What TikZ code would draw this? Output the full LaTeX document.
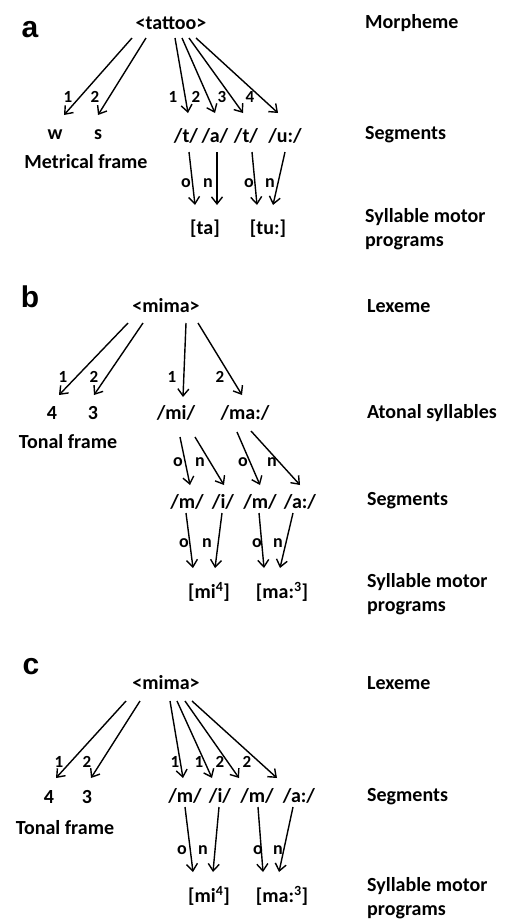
\documentclass[tikz,border=0pt]{standalone}
\usepackage{fontspec}
\setmainfont{Carlito}
\newfontfamily\panelfont{Liberation Sans}
\usetikzlibrary{arrows.meta}
\begin{document}
\begin{tikzpicture}[x=1pt,y=-1pt,
  arr/.style={line width=1.4pt,-{Straight Barb[length=7pt,width=11pt,line width=1.4pt]}},
  txt/.style={font=\bfseries\fontsize{20}{24}\selectfont,inner sep=0pt},
  num/.style={font=\bfseries\fontsize{17}{18}\selectfont,inner sep=0pt},
  onl/.style={font=\bfseries\fontsize{18}{20}\selectfont,inner sep=0pt},
  lab/.style={txt,anchor=west,align=left},
  panel/.style={font=\panelfont\bfseries\fontsize{30}{32}\selectfont,inner sep=0pt}]
\useasboundingbox[fill=white] (0,0) rectangle (506,921);

% ---------------- panel a ----------------
\node[panel] (pa) at (30,30) {a};
\node[txt] (tattoo) at (171,23) {<tattoo>};
\node[lab] (la1) at (365,23) {Morpheme};
\node[lab] (la2) at (365,135) {Segments};
\node[lab] (la3) at (365,229) {Syllable motor\\programs};

\node[txt] (w) at (55,135) {w};
\node[txt] (s) at (98,135) {s};
\node[txt] (mf) at (86,162) {Metrical frame};
\node[txt] (t1) at (186,136) {/t/};
\node[txt] (a1) at (215,136) {/a/};
\node[txt] (t2) at (246,136) {/t/};
\node[txt] (u1) at (285,136) {/u:/};
\node[txt] (ta) at (205,229) {[ta]};
\node[txt] (tu) at (268,229) {[tu:]};

\draw[arr] ([shift={(-39,15)}]tattoo.center) -- ([shift={(9,-20)}]w.center);
\draw[arr] ([shift={(-25,15)}]tattoo.center) -- ([shift={(0,-20)}]s.center);
\node[num] (na1) at (68,97) {1};
\node[num] (na2) at (95,97) {2};

\draw[arr] ([shift={(4,15)}]tattoo.center) -- ([shift={(2,-23)}]t1.center);
\draw[arr] ([shift={(11,15)}]tattoo.center) -- ([shift={(0,-23)}]a1.center);
\draw[arr] ([shift={(18,15)}]tattoo.center) -- ([shift={(-3,-23)}]t2.center);
\draw[arr] ([shift={(25,15)}]tattoo.center) -- ([shift={(-7,-23)}]u1.center);
\node[num] (na3) at (173,97) {1};
\node[num] (na4) at (196,97) {2};
\node[num] (na5) at (222,97) {3};
\node[num] (na6) at (250,97) {4};

\draw[arr] ([shift={(3,16)}]t1.center) -- ([shift={(-10,-24)}]ta.center);
\draw[arr] ([shift={(2,16)}]a1.center) -- ([shift={(12,-24)}]ta.center);
\draw[arr] ([shift={(6,16)}]t2.center) -- ([shift={(-11,-24)}]tu.center);
\draw[arr] ([shift={(0,16)}]u1.center) -- ([shift={(5,-24)}]tu.center);
\node[onl] (oa1) at (186,183) {o};
\node[onl] (oa2) at (208,183) {n};
\node[onl] (oa3) at (249,183) {o};
\node[onl] (oa4) at (270,183) {n};

% ---------------- panel b ----------------
\node[panel] (pb) at (30,297) {b};
\node[txt] (mimab) at (166,306) {<mima>};
\node[lab] (lb1) at (367,306) {Lexeme};
\node[lab] (lb2) at (367,413) {Atonal syllables};
\node[lab] (lb3) at (367,501) {Segments};
\node[lab] (lb4) at (367,594) {Syllable motor\\programs};

\node[txt] (fb4) at (52,413) {4};
\node[txt] (fb3) at (93,413) {3};
\node[txt] (tfb) at (68,442) {Tonal frame};
\node[txt] (mib) at (176,413) {/mi/};
\node[txt] (mab) at (245,413) {/ma:/};
\node[txt] (m1b) at (187,502) {/m/};
\node[txt] (ib) at (223,502) {/i/};
\node[txt] (m2b) at (260,502) {/m/};
\node[txt] (ab) at (300,502) {/a:/};
\node[txt] (mi4b) at (209,592) {[mi\textsuperscript{4}]};
\node[txt] (ma3b) at (282,592) {[ma:\textsuperscript{3}]};

\draw[arr] ([shift={(-38,17)}]mimab.center) -- ([shift={(7,-18)}]fb4.center);
\draw[arr] ([shift={(-23,17)}]mimab.center) -- ([shift={(1,-18)}]fb3.center);
\node[num] (nb1) at (63,377) {1};
\node[num] (nb2) at (94,377) {2};
\draw[arr] ([shift={(20,17)}]mimab.center) -- ([shift={(7,-16)}]mib.center);
\draw[arr] ([shift={(32,17)}]mimab.center) -- ([shift={(-3,-18)}]mab.center);
\node[num] (nb3) at (172,377) {1};
\node[num] (nb4) at (220,377) {2};

\draw[arr] ([shift={(4,24)}]mib.center) -- ([shift={(3,-17)}]m1b.center);
\draw[arr] ([shift={(19,24)}]mib.center) -- ([shift={(1,-17)}]ib.center);
\draw[arr] ([shift={(-8,19)}]mab.center) -- ([shift={(0,-17)}]m2b.center);
\draw[arr] ([shift={(6,18)}]mab.center) -- ([shift={(0,-17)}]ab.center);
\node[onl] (ob1) at (178,462) {o};
\node[onl] (ob2) at (200,462) {n};
\node[onl] (ob3) at (243,462) {o};
\node[onl] (ob4) at (272,462) {n};

\draw[arr] ([shift={(-1,11)}]m1b.center) -- ([shift={(-16,-24)}]mi4b.center);
\draw[arr] ([shift={(-1,11)}]ib.center) -- ([shift={(6,-24)}]mi4b.center);
\draw[arr] ([shift={(-1,11)}]m2b.center) -- ([shift={(-18,-24)}]ma3b.center);
\draw[arr] ([shift={(-7,11)}]ab.center) -- ([shift={(-2,-24)}]ma3b.center);
\node[onl] (ob5) at (184,543) {o};
\node[onl] (ob6) at (207,543) {n};
\node[onl] (ob7) at (257,543) {o};
\node[onl] (ob8) at (278,543) {n};

% ---------------- panel c ----------------
\node[panel] (pc) at (31,667) {c};
\node[txt] (mimac) at (166,683) {<mima>};
\node[lab] (lc1) at (367,683) {Lexeme};
\node[lab] (lc2) at (367,797) {Segments};
\node[lab] (lc3) at (367,898) {Syllable motor\\programs};

\node[txt] (fc4) at (49,797) {4};
\node[txt] (fc3) at (87,797) {3};
\node[txt] (tfc) at (65,828) {Tonal frame};
\node[txt] (m1c) at (185,796) {/m/};
\node[txt] (ic) at (220,796) {/i/};
\node[txt] (m2c) at (257,796) {/m/};
\node[txt] (ac) at (299,796) {/a:/};
\node[txt] (mi4c) at (209,896) {[mi\textsuperscript{4}]};
\node[txt] (ma3c) at (282,896) {[ma:\textsuperscript{3}]};

\draw[arr] ([shift={(-40,18)}]mimac.center) -- ([shift={(7,-19)}]fc4.center);
\draw[arr] ([shift={(-26,18)}]mimac.center) -- ([shift={(4,-19)}]fc3.center);
\node[num] (nc1) at (59,762) {1};
\node[num] (nc2) at (87,762) {2};
\draw[arr] ([shift={(4,18)}]mimac.center) -- ([shift={(-2,-18)}]m1c.center);
\draw[arr] ([shift={(11,18)}]mimac.center) -- ([shift={(-8,-18)}]ic.center);
\draw[arr] ([shift={(19,18)}]mimac.center) -- ([shift={(-18,-18)}]m2c.center);
\draw[arr] ([shift={(26,18)}]mimac.center) -- ([shift={(-22,-18)}]ac.center);
\node[num] (nc3) at (175,762) {1};
\node[num] (nc4) at (199,762) {1};
\node[num] (nc5) at (220,762) {2};
\node[num] (nc6) at (247,762) {2};

\draw[arr] ([shift={(0,11)}]m1c.center) -- ([shift={(-16,-24)}]mi4c.center);
\draw[arr] ([shift={(-1,11)}]ic.center) -- ([shift={(4,-24)}]mi4c.center);
\draw[arr] ([shift={(1,11)}]m2c.center) -- ([shift={(-19,-24)}]ma3c.center);
\draw[arr] ([shift={(-6,11)}]ac.center) -- ([shift={(-3,-24)}]ma3c.center);
\node[onl] (oc1) at (182,850) {o};
\node[onl] (oc2) at (203,850) {n};
\node[onl] (oc3) at (258,850) {o};
\node[onl] (oc4) at (278,850) {n};
\end{tikzpicture}
\end{document}
